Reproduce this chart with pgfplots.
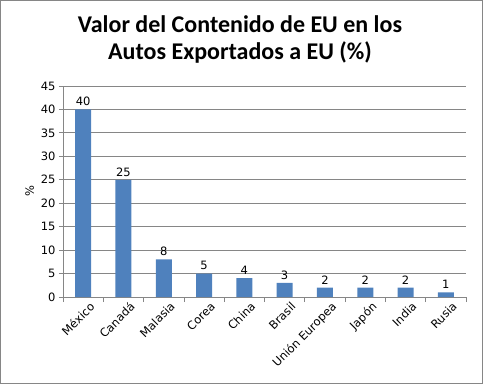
\documentclass[border=0pt]{standalone}
\usepackage{pgfplots}
\pgfplotsset{compat=1.18}
\usepackage{fontspec}
\setmainfont{DejaVu Sans}
\newfontfamily\titlefont{Carlito}
\definecolor{barblue}{HTML}{4F81BD}
\definecolor{gridgray}{HTML}{868686}
\begin{document}
\begin{tikzpicture}
\useasboundingbox (0pt,0pt) rectangle (483pt,384pt);
\draw[gridgray, line width=1pt] (0.5pt,0.5pt) rectangle (482.5pt,383.5pt);
\node[font=\titlefont\fontsize{24}{27}\selectfont\bfseries, align=center] at (240pt,345pt) {Valor del Contenido de EU en los\\Autos Exportados a EU (\%)};
\begin{axis}[
  at={(63pt,87pt)}, anchor=south west,
  scale only axis, width=403pt, height=211pt,
  xmin=-0.5, xmax=9.5, ymin=0, ymax=45,
  ytick={0,5,...,45},
  ymajorgrids, grid style={gridgray, line width=0.8pt},
  axis line style={gridgray, line width=0.8pt},
  axis x line*=bottom, axis y line*=left,
  ybar, bar width=16pt, bar shift=0pt,
  xtick={0,...,9}, major x tick style={draw=none},
  xticklabels={México,Canadá,Malasia,Corea,China,Brasil,Unión Europea,Japón,India,Rusia},
  x tick label style={rotate=45, anchor=north east, inner sep=1pt, xshift=5pt, yshift=-3pt},
  minor xtick={-0.5,0.5,...,9.5},
  minor x tick style={gridgray, line width=0.8pt},
  tick align=outside, major tick length=4pt, minor tick length=5pt,
  y tick style={gridgray, line width=0.8pt},
  ticklabel style={font=\fontsize{11.5}{13}\selectfont},
  /pgf/number format/assume math mode=true,
  ylabel={\%}, ylabel style={font=\fontsize{11.5}{13}\selectfont},
  every node near coord/.append style={font=\fontsize{11.5}{13}\selectfont, black},
  nodes near coords,
  point meta=explicit symbolic,
]
\addplot[fill=barblue, draw=none] table[meta=v] {
x y v
0 40 40
1 25 25
2 8 8
3 5 5
4 4 4
5 3 3
6 2 2
7 2 2
8 2 2
9 1 1
};
\end{axis}
\end{tikzpicture}
\end{document}
